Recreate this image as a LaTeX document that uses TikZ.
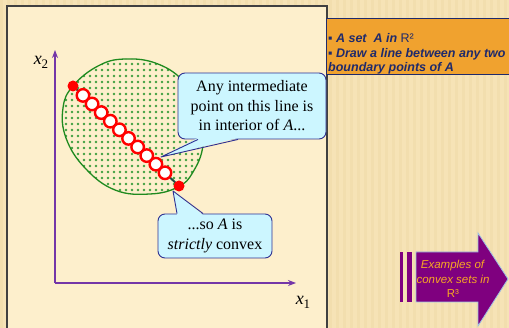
\documentclass[tikz,border=0pt]{standalone}
\usepackage{fontspec}
\setmainfont{Liberation Serif}
\newfontfamily\slidesans{Liberation Sans}
\usetikzlibrary{arrows.meta,calc,patterns.meta}

\definecolor{slidebg}{HTML}{F6E3B6}
\definecolor{slidestreak}{HTML}{F2DEAE}
\definecolor{panelbg}{HTML}{FDEFCC}
\definecolor{axispurple}{HTML}{7436A8}
\definecolor{setgreen}{HTML}{1F8A1F}
\definecolor{dotgreen}{HTML}{3F9F3F}
\definecolor{chordcol}{HTML}{1F4F45}
\definecolor{calloutfill}{HTML}{CCF6FF}
\definecolor{calloutline}{HTML}{2E3192}
\definecolor{notefill}{HTML}{F0A22F}
\definecolor{notetext}{HTML}{1F2A6B}
\definecolor{arrowpurple}{HTML}{7F007F}
\definecolor{arrowedge}{HTML}{9DC3E6}
\definecolor{arrowtext}{HTML}{F7A823}

\tikzset{
  callout/.style={draw=calloutline, fill=calloutfill, rounded corners=7pt,
    line width=0.9pt, align=center, inner sep=0pt,
    font=\fontsize{16}{19.5}\selectfont},
  pointer/.style={draw=calloutline, line width=0.9pt, line join=round},
  endpt/.style={circle, fill=red, inner sep=0pt, minimum size=11pt},
  midpt/.style={circle, draw=red, fill=white, line width=2.4pt, inner sep=0pt,
    minimum size=12.5pt},
  axislabel/.style={font=\fontsize{18}{18}\selectfont},
}

\begin{document}
\begin{tikzpicture}[x=1pt, y=-1pt, >={Stealth[length=8pt,width=6pt]}]
    \fill[slidebg] (0,0) rectangle (509,328);
    \useasboundingbox (0,0) rectangle (509,328);
    \foreach \sx in {0,7,...,505}
        \fill[slidestreak] (\sx,0) rectangle ++(3,328);

    \draw[fill=panelbg, draw=black!75, line width=1.5pt] (7,6) rectangle (327,345);

    % axes
    \coordinate (O) at (55,283);
    \coordinate (xend) at (296,283);
    \coordinate (yend) at (55,50);
    \draw[axispurple, line width=1.3pt, ->] (O) -- (xend);
    \draw[axispurple, line width=1.3pt, ->] (O) -- (yend);
    \node[axislabel] (xlab) at (303,302) {\textit{x}\raisebox{-4pt}{\fontsize{13}{13}\selectfont 1}};
    \node[axislabel] (ylab) at (41,62) {\textit{x}\raisebox{-4pt}{\fontsize{13}{13}\selectfont 2}};

    % the set A
    \draw[setgreen, line width=1.3pt,
          pattern={Dots[distance=6pt, radius=1.35pt]}, pattern color=dotgreen]
        plot[smooth cycle, tension=0.7] coordinates {
            (73,86)
            (98,66)
            (125,59)
            (158,64)
            (185,83)
            (200,112)
            (203,145)
            (193,172)
            (178,187)
            (150,194)
            (115,190)
            (85,168)
            (66,138)
            (63,108)
        };

    % chord between two boundary points
    \coordinate (pA) at (73,86);
    \coordinate (pB) at (179,186);
    \draw[chordcol, line width=2pt] (pA) -- (pB);
    \foreach \i in {1,...,10}
        \node[midpt] (m\i) at ($(pA)!{0.008+0.086*\i}!(pB)$) {};
    \node[endpt] (dotA) at (pA) {};
    \node[endpt] (dotB) at (pB) {};

    % callouts
    \node[callout, minimum width=148pt, minimum height=66pt] (note1) at (252,106)
        {Any intermediate\\point on this line is\\in interior of \textit{A}...};
    \coordinate (tip1) at (161,157);
    \fill[calloutfill] ([xshift=-54pt, yshift=1.5pt]note1.south) -- (tip1)
        -- ([xshift=-14pt, yshift=1.5pt]note1.south) -- cycle;
    \draw[pointer] ([xshift=-54pt]note1.south) -- (tip1) -- ([xshift=-14pt]note1.south);

    \node[callout, minimum width=114pt, minimum height=44pt] (note2) at (215,236)
        {...so \textit{A} is\\\textit{strictly} convex};
    \coordinate (tip2) at (173,191);
    \fill[calloutfill] ([xshift=-38pt, yshift=-1.5pt]note2.north) -- (tip2)
        -- ([xshift=-12pt, yshift=-1.5pt]note2.north) -- cycle;
    \draw[pointer] ([xshift=-38pt]note2.north) -- (tip2) -- ([xshift=-12pt]note2.north);

    % task box
    \node[draw=notetext, fill=notefill, line width=1.2pt, anchor=north west,
          minimum width=195pt, minimum height=56pt] (taskbox) at (326,18) {};
    \node[anchor=north west, align=left, inner sep=0pt, text=notetext,
          font=\slidesans\bfseries\itshape\fontsize{12.5}{13.5}\selectfont] (tasktext) at (328,33)
        {▪ A set\ \ A in {\mdseries\upshape R²}\\[2pt]
         ▪ Draw a line between any two\\
         boundary points of A};

    % link arrow
    \fill[arrowpurple] (400,252) rectangle (403,302);
    \fill[arrowpurple] (407,252) rectangle (412,302);
    \draw[fill=arrowpurple, draw=arrowedge, line width=0.8pt]
        (416,252) -- (478,252) -- (478,233) -- (508,279) --
        (478,326) -- (478,302) -- (416,302) -- cycle;
    \node[align=center, text=arrowtext, inner sep=0pt,
          font=\slidesans\fontsize{11.5}{14.5}\selectfont] (linktext) at (453,279)
        {\textit{Examples of}\\\textit{convex sets in}\\R³};
\end{tikzpicture}
\end{document}
